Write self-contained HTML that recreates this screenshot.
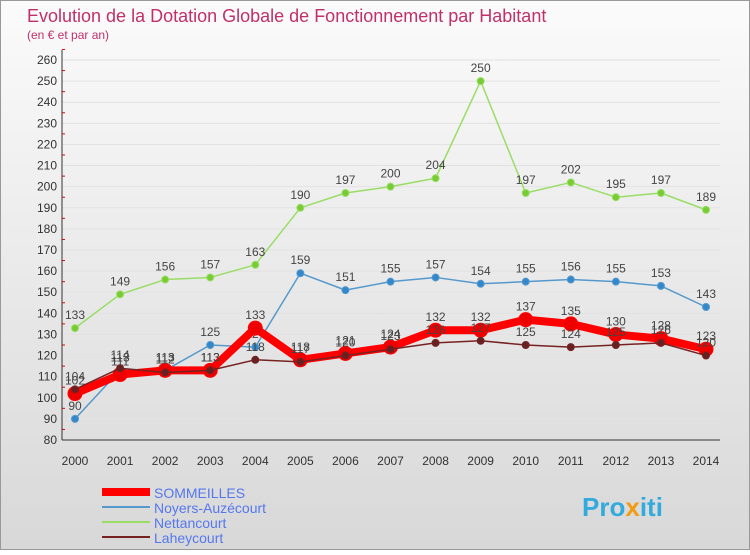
<!DOCTYPE html>
<html><head><meta charset="utf-8"><style>
body{margin:0;width:750px;height:550px;overflow:hidden;font-family:"Liberation Sans",sans-serif}
</style></head><body>
<svg id="c" width="750" height="550" xmlns="http://www.w3.org/2000/svg">
<defs><linearGradient id="bg" x1="0" y1="0" x2="0" y2="1"><stop offset="0" stop-color="#fbfbfb"/><stop offset="1" stop-color="#d8d8d8"/></linearGradient></defs>
<rect x="0.5" y="0.5" width="749" height="549" fill="url(#bg)" stroke="#999"/>
<text x="27" y="22" font-size="18" fill="#c0306a">Evolution de la Dotation Globale de Fonctionnement par Habitant</text>
<text x="27" y="39" font-size="12" fill="#c0306a">(en € et par an)</text>
<g id="axes"></g><g id="series"></g>
<g>
<line x1="102" y1="492" x2="150" y2="492" stroke="#f00" stroke-width="8"/>
<text x="154" y="498" font-size="14" fill="#5577ee">SOMMEILLES</text>
<line x1="102" y1="507" x2="150" y2="507" stroke="#5599cc" stroke-width="2"/>
<text x="154" y="513" font-size="14" fill="#5577ee">Noyers-Auzécourt</text>
<line x1="102" y1="522" x2="150" y2="522" stroke="#99dd66" stroke-width="2"/>
<text x="154" y="528" font-size="14" fill="#5577ee">Nettancourt</text>
<line x1="102" y1="537" x2="150" y2="537" stroke="#772222" stroke-width="2"/>
<text x="154" y="543" font-size="14" fill="#5577ee">Laheycourt</text>
</g>
<text x="582" y="516" font-size="26" font-weight="bold" fill="#33aadd">Pro<tspan fill="#f39c12">x</tspan>iti</text>
</svg>
<script>
const years=[2000,2001,2002,2003,2004,2005,2006,2007,2008,2009,2010,2011,2012,2013,2014];
const yTicks=[80,90,100,110,120,130,140,150,160,170,180,190,200,210,220,230,240,250,260];
const sommeilles=[102,111,113,113,133,118,121,124,132,132,137,135,130,128,123];
const noyers=[90,113,113,125,124,159,151,155,157,154,155,156,155,153,143];
const nettancourt=[133,149,156,157,163,190,197,200,204,250,197,202,195,197,189];
const laheycourt=[104,114,112,113,118,117,120,123,126,127,125,124,125,126,120];
const NS="http://www.w3.org/2000/svg";
const X=i=>75+i*(631/14), Y=v=>440-(v-80)*380/180;
function mk(t,a,p){const e=document.createElementNS(NS,t);for(const k in a)e.setAttribute(k,a[k]);p.appendChild(e);return e;}
const ax=document.getElementById('axes'), sg=document.getElementById('series');
yTicks.forEach(v=>{
 const l=mk('line',{x1:62,x2:720,y1:Y(v),y2:Y(v),stroke:'#e2e2e2'},ax);
 
 
 const t=mk('text',{x:57,y:Y(v)+4,'font-size':12,fill:'#333','text-anchor':'end'},ax);t.textContent=v;
 
 
 const m=mk('line',{x1:62,x2:65,y1:Y(v+5),y2:Y(v+5),stroke:'#e00'},ax);
 
 
});
const a1=mk('line',{x1:62,x2:62,y1:50,y2:440,stroke:'#333'},ax);


const a2=mk('line',{x1:62,x2:720,y1:440,y2:440,stroke:'#333'},ax);


years.forEach((y,i)=>{
 const t=mk('text',{x:X(i),y:465,'font-size':12,fill:'#333','text-anchor':'middle'},ax);t.textContent=y;
 
 
});
function series(d,name,col,w,r,dot){
 const g=mk('g',{},sg);
 
 
 const p=mk('polyline',{points:d.map((v,i)=>X(i)+','+Y(v)).join(' '),fill:'none',stroke:col,'stroke-width':w,'stroke-linejoin':'round'},g);
 
 
 d.forEach((v,i)=>{
  const c=mk('circle',{cx:X(i),cy:Y(v),r:r,fill:dot,stroke:col,'stroke-width':1},g);
  
  
  const t=mk('text',{x:X(i),y:Y(v)-9,'font-size':12,fill:'#444','text-anchor':'middle'},g);t.textContent=v;
  
  
 });
}
series(nettancourt,'nettancourt','#99dd66',1.5,3.5,'#77cc33');
series(noyers,'noyers','#5599cc',1.5,3.5,'#3388cc');
series(sommeilles,'sommeilles','#ff0000',8,7,'#ee0000');
series(laheycourt,'laheycourt','#772222',1.5,3.5,'#662222');
</script>
</body></html>
